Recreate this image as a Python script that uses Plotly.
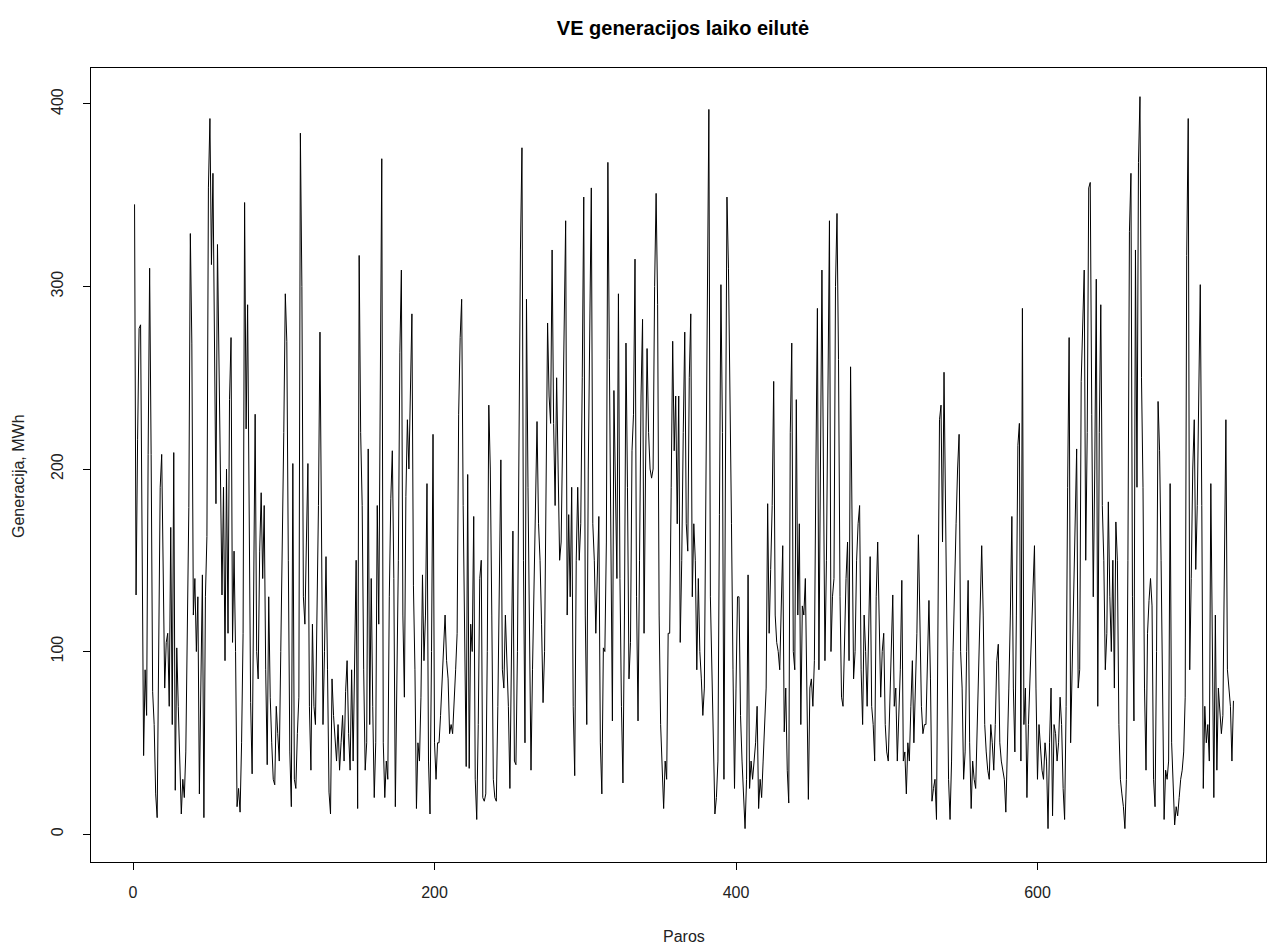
import plotly.graph_objects as go

# Daily wind generation (MWh)
gen_001_059 = [345,131,216,277,279,160,43,90,65,208, 310,208,78,60,22,9,100,190,208,130,
               80,105,110,70,168,60,209,24,102,70, 46,11,30,20,45,120,179,329,269,120,
               140,100,130,22,85,142,9,130,163,354, 392,312,362,248,181,323,250,200,131]
gen_060_121 = [190,95,200,110,238,272,105,155,100,15, 25,12,50,110,346,222,290,180,72,33,
               120,230,100,85,155,187,140,180,90,38, 130,75,50,30,27,70,55,40,100,150,
               220,296,270,150,45,15,203,30,25,55, 75,384,300,130,115,160,203,70,35,115,
               70,60]
gen_122_183 = [120,180,275,140,60,100,152,90,23,11, 85,65,50,40,60,35,50,65,40,78,
               95,55,35,90,40,110,150,14,317,220, 180,90,35,50,211,60,140,70,20,50,
               180,115,260,370,50,20,40,30,130,184, 210,140,15,80,150,264,309,120,75,185,
               227,200]
gen_184_245 = [250,285,136,90,14,50,40,75,142,95, 120,192,40,11,100,219,50,30,50,50,
               65,85,100,120,95,85,55,60,55,70, 90,110,230,272,293,180,90,37,197,36,
               115,100,174,30,8,60,140,150,20,18, 22,100,235,200,120,30,20,18,70,150,
               205,90]
gen_246_307 = [80,120,95,70,25,110,166,40,38,100, 220,320,376,150,50,293,190,90,35,90,
               140,180,226,170,150,115,72,100,220,280, 240,225,320,225,180,250,200,150,160,230,
               300,336,120,175,130,190,70,32,150,190, 150,170,250,349,120,60,200,300,354,170,
               150,110]
gen_308_368 = [142,174,50,22,102,100,160,368,260,170, 62,243,175,140,296,140,70,28,120,269,
               190,85,105,210,230,315,130,62,150,240, 282,110,200,266,220,200,195,200,300,351,
               290,120,60,40,14,40,30,110,110,190, 270,210,240,170,240,105,150,220,275,170,
               155]
gen_369_429 = [250,285,130,170,150,90,140,100,85,65, 80,203,320,397,130,90,40,11,20,40,
               175,301,220,30,200,349,310,250,170,90, 25,80,130,130,65,40,18,3,30,142,
               25,40,30,40,50,70,14,30,20,40, 60,80,181,110,145,180,248,120,105,100,
               90]
gen_430_491 = [130,158,56,80,35,17,220,269,100,90, 238,120,170,60,125,120,140,60,19,80,
               85,70,95,200,288,90,200,309,200,95, 150,250,336,100,130,140,300,340,260,130,
               75,70,110,140,160,95,256,170,85,100, 150,170,180,90,60,120,100,70,120,152,
               70,60]
gen_492_553 = [40,130,160,120,75,100,110,60,45,40, 70,95,131,70,80,40,60,90,139,40,
               45,22,50,40,70,95,50,80,110,164, 120,70,55,60,60,90,128,85,18,25,
               30,8,150,227,235,160,253,170,80,30, 8,40,100,145,170,200,219,100,80,30,
               45,100]
gen_554_615 = [139,50,14,40,30,25,60,90,130,158, 120,60,45,35,30,60,50,35,60,95,
               104,50,40,35,30,12,40,80,120,174, 80,45,120,213,225,40,288,60,80,20,
               60,85,110,130,158,80,30,60,45,35, 30,50,40,3,50,80,10,60,55,40,
               50,75]
gen_616_677 = [60,25,8,70,190,272,50,90,120,171, 211,80,90,248,288,309,150,220,354,357,
               230,130,200,304,70,220,290,180,150,90, 110,182,130,100,150,80,171,150,60,30,
               22,15,3,30,150,330,362,130,62,320, 190,368,404,250,190,80,35,110,128,140,
               125,30]
gen_678_730 = [15,100,237,210,150,75,8,35,30,40, 192,50,22,5,15,10,20,30,35,45,
               75,317,392,90,140,200,227,145,180,260, 301,180,25,70,50,60,40,192,100,20,
               120,35,80,70,55,65,150,227,90,80, 70,40,73]

generacija = (gen_001_059 + gen_060_121 + gen_122_183 + gen_184_245 + gen_246_307 +
              gen_308_368 + gen_369_429 + gen_430_491 + gen_492_553 + gen_554_615 +
              gen_616_677 + gen_678_730)
paros = list(range(1, len(generacija) + 1))

x_ticks = [0, 200, 400, 600]
y_ticks = [0, 100, 200, 300, 400]

W, H = 1270, 945
L, R, T, B = 91, 4, 68, 83
FONT = "Liberation Sans, Arial, sans-serif"

fig = go.Figure(go.Scatter(x=paros, y=generacija, mode="lines",
                           line=dict(color="black", width=1), hoverinfo="skip"))

axis_common = dict(showline=True, linecolor="black", linewidth=1, mirror=True,
                   ticks="outside", ticklen=7, tickwidth=1, tickcolor="black",
                   showgrid=False, zeroline=False,
                   tickfont=dict(family=FONT, size=16, color="#222222"))

fig.update_xaxes(range=[-27.9, 751.6], tickvals=x_ticks, ticktext=[str(v) for v in x_ticks],
                 ticklabelstandoff=9, **axis_common)
fig.update_yaxes(range=[-15.3, 419.7], tickvals=y_ticks, ticktext=[str(v) for v in y_ticks],
                 tickangle=-90, ticklabelstandoff=14, **axis_common)

ph = H - T - B
pw = W - L - R
fig.update_layout(
    width=W, height=H,
    margin=dict(l=L, r=R, t=T, b=B, pad=0),
    paper_bgcolor="white", plot_bgcolor="white", showlegend=False,
    font=dict(family=FONT, color="black", size=16),
    title=dict(text="<b>VE generacijos laiko eilutė</b>", xref="container", yref="container",
               x=683 / W, xanchor="center", y=1 - 28 / H, yanchor="middle",
               font=dict(family=FONT, size=20, color="black")),
    annotations=[
        dict(text="Paros", xref="paper", yref="paper", x=(684 - L) / pw, y=(H - B - 936) / ph,
             xanchor="center", yanchor="middle", showarrow=False,
             font=dict(family=FONT, size=16, color="#222222")),
        dict(text="Generacija, MWh", xref="paper", yref="paper", x=(18 - L) / pw,
             y=(H - B - 476) / ph,
             xanchor="center", yanchor="middle", textangle=-90, showarrow=False,
             font=dict(family=FONT, size=16, color="#222222")),
    ],
)

fig.write_html("out.html")
